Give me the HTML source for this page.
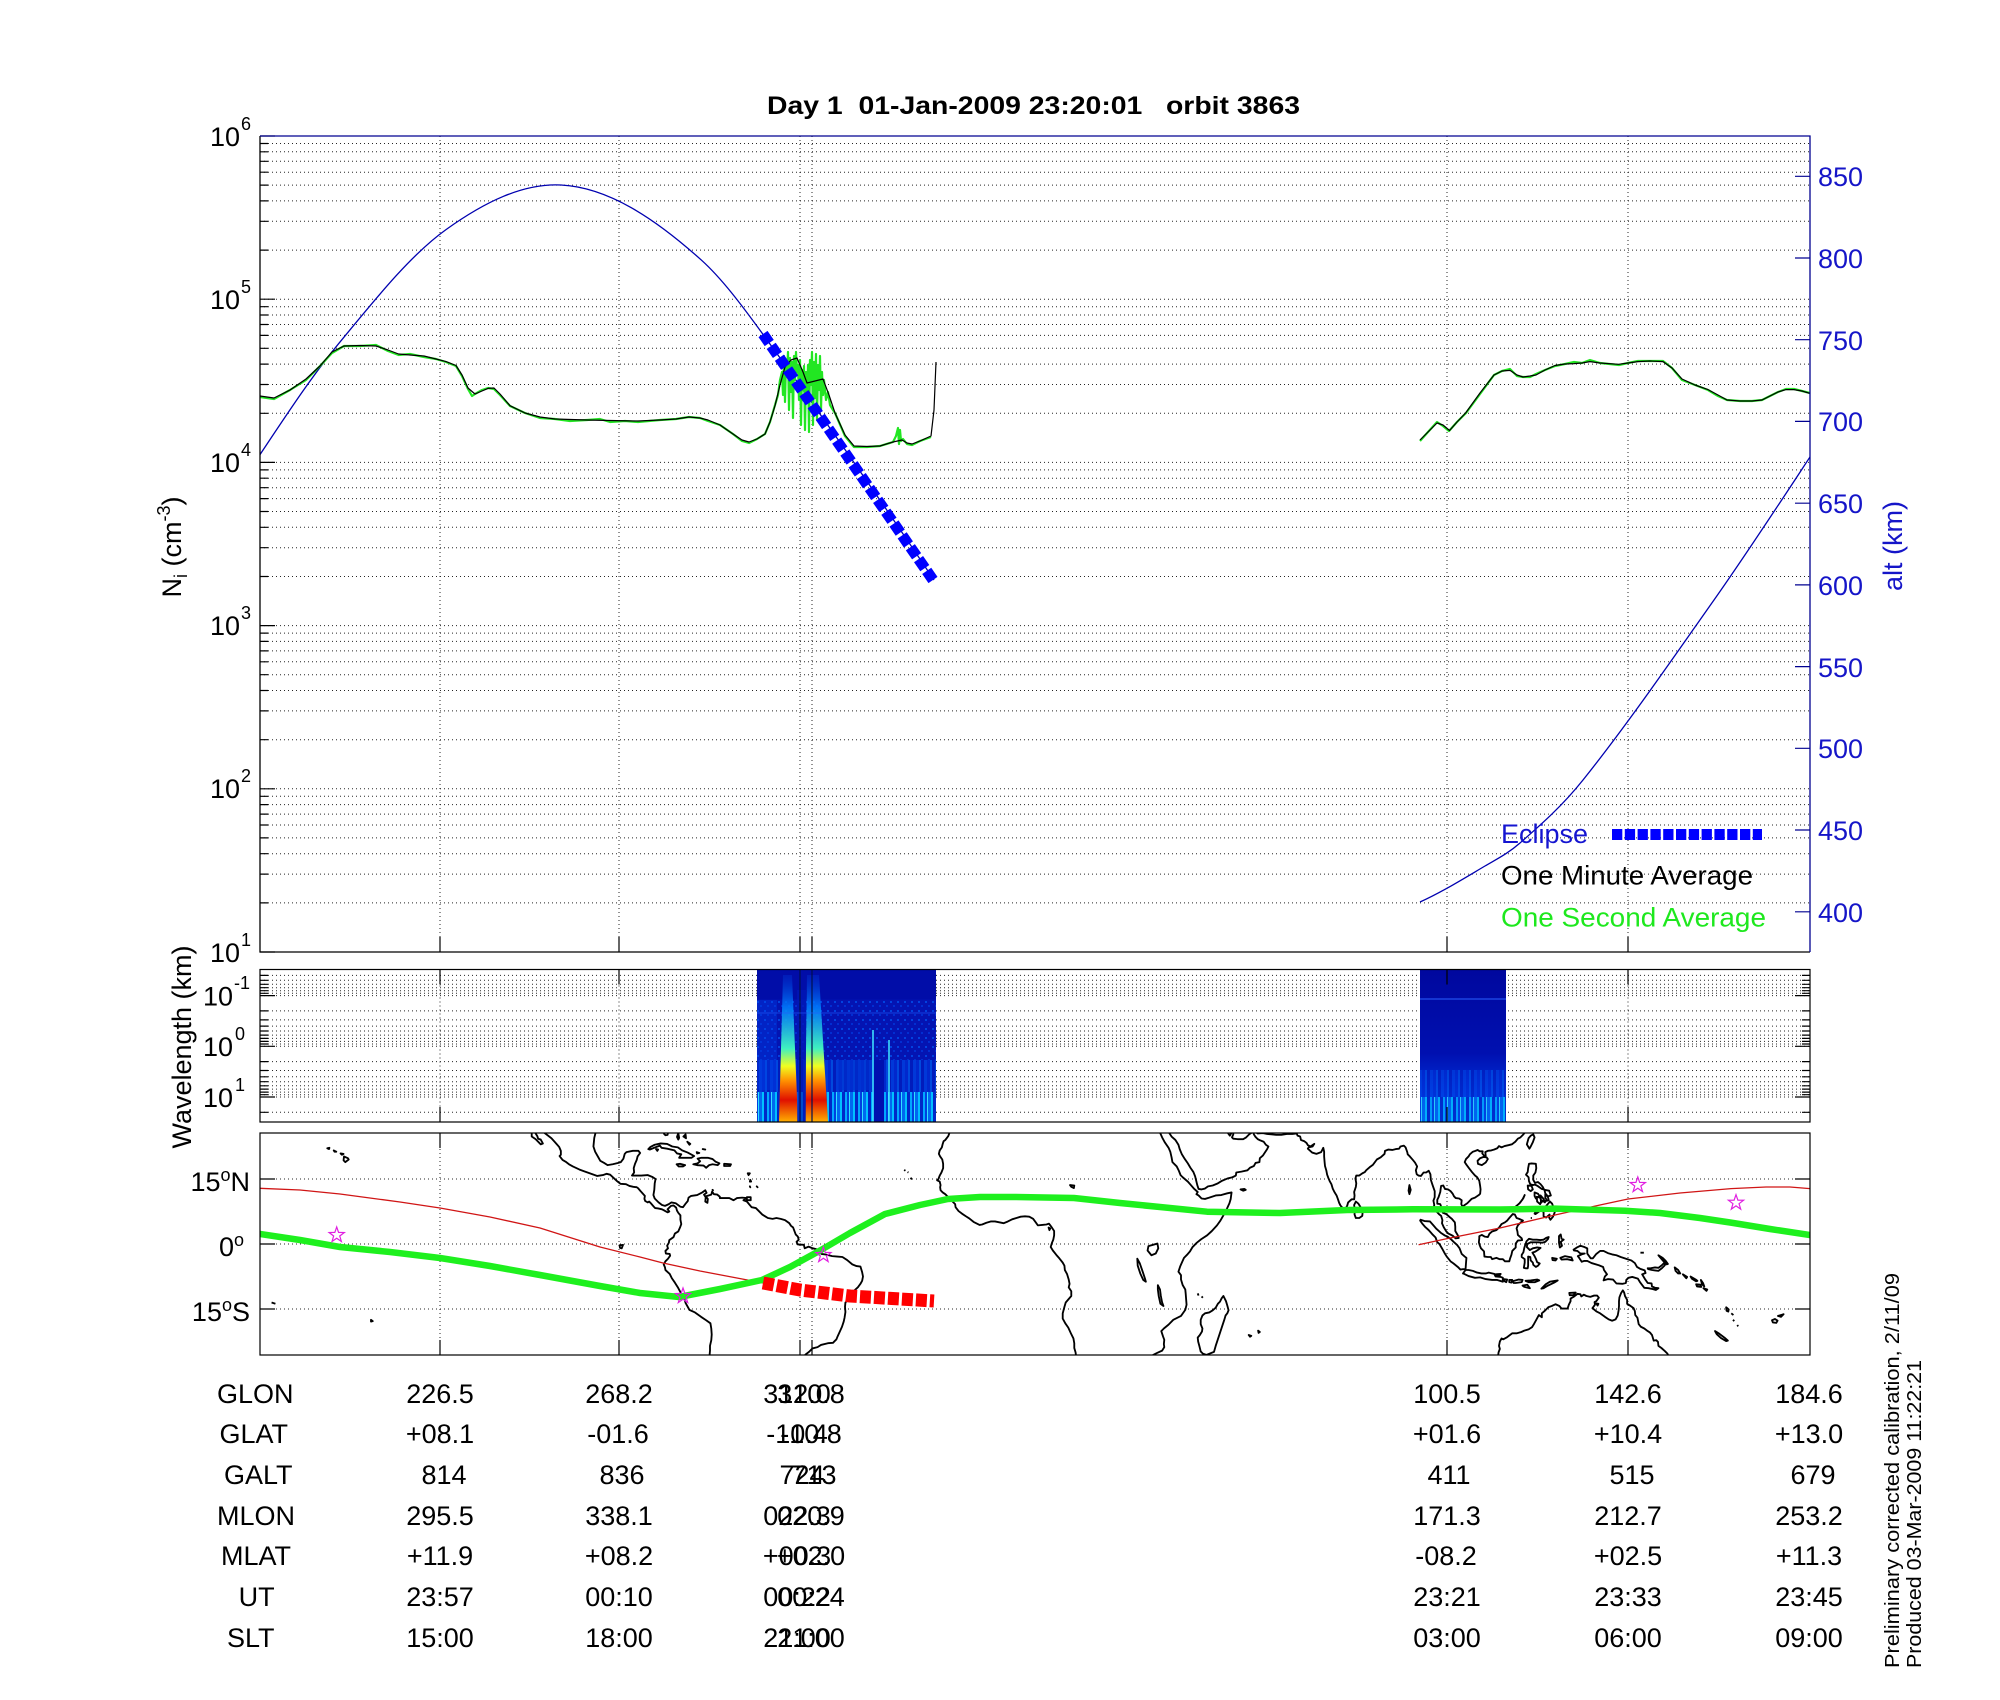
<!DOCTYPE html>
<html><head><meta charset="utf-8"><style>
html,body{margin:0;padding:0;background:#fff;}
svg{display:block;}
text{font-family:"Liberation Sans",Arial,sans-serif;white-space:pre;}
</style></head><body>
<svg width="2000" height="1700" viewBox="0 0 2000 1700" xmlns="http://www.w3.org/2000/svg">
<defs>
<clipPath id="mapclip"><rect x="260" y="1133" width="1550" height="222"/></clipPath>
<clipPath id="topclip"><rect x="260" y="136" width="1550" height="816"/></clipPath>
<linearGradient id="streak" x1="0" y1="975" x2="0" y2="1122" gradientUnits="userSpaceOnUse">
<stop offset="0" stop-color="#0030d0" stop-opacity="0.4"/>
<stop offset="0.22" stop-color="#0080ff" stop-opacity="0.85"/>
<stop offset="0.5" stop-color="#40f0c0"/>
<stop offset="0.62" stop-color="#f0ff20"/>
<stop offset="0.72" stop-color="#ff9000"/>
<stop offset="0.85" stop-color="#e01000"/>
<stop offset="1" stop-color="#ffb000"/>
</linearGradient>
<linearGradient id="b2" x1="0" y1="969" x2="0" y2="1122" gradientUnits="userSpaceOnUse">
<stop offset="0" stop-color="#00089e"/>
<stop offset="0.55" stop-color="#0010b0"/>
<stop offset="0.8" stop-color="#0030d8"/>
<stop offset="1" stop-color="#0050f0"/>
</linearGradient>
<pattern id="stripes" x="0" y="0" width="13" height="40" patternUnits="userSpaceOnUse">
<rect x="0" y="0" width="2" height="40" fill="#00a8ff"/>
<rect x="2" y="0" width="2" height="40" fill="#0040e0"/>
<rect x="4" y="0" width="1" height="40" fill="#30e0ff"/>
<rect x="5" y="0" width="3" height="40" fill="#0068f0"/>
<rect x="8" y="0" width="2" height="40" fill="#00c0ff"/>
<rect x="10" y="0" width="3" height="40" fill="#0028c8"/>
</pattern>
<pattern id="stripes2" x="3" y="0" width="11" height="40" patternUnits="userSpaceOnUse">
<rect x="0" y="0" width="3" height="40" fill="#0030d8"/>
<rect x="3" y="0" width="2" height="40" fill="#0060f0"/>
<rect x="5" y="0" width="3" height="40" fill="#0020c0"/>
<rect x="8" y="0" width="3" height="40" fill="#0048e8"/>
</pattern>
<pattern id="speck" x="0" y="0" width="7" height="9" patternUnits="userSpaceOnUse">
<rect x="1" y="2" width="2" height="2" fill="#0060ff"/>
<rect x="4" y="6" width="2" height="2" fill="#0040e8"/>
</pattern>
</defs>

<!-- Title -->
<text x="767" y="114" font-size="25" font-weight="bold" textLength="533" lengthAdjust="spacingAndGlyphs">Day 1  01-Jan-2009 23:20:01   orbit 3863</text>

<!-- ===== TOP PANEL ===== -->
<g fill="none" stroke="#000" stroke-width="1" stroke-dasharray="1 3" opacity="0.85">
<path d="M260,902.9H1810M260,874.1H1810M260,853.7H1810M260,837.9H1810M260,825H1810M260,814.1H1810M260,804.6H1810M260,796.3H1810M260,788.8H1810
M260,739.7H1810M260,710.9H1810M260,690.5H1810M260,674.7H1810M260,661.8H1810M260,650.9H1810M260,641.4H1810M260,633.1H1810M260,625.6H1810
M260,576.5H1810M260,547.7H1810M260,527.3H1810M260,511.5H1810M260,498.6H1810M260,487.7H1810M260,478.2H1810M260,469.9H1810M260,462.4H1810
M260,413.3H1810M260,384.5H1810M260,364.1H1810M260,348.3H1810M260,335.4H1810M260,324.5H1810M260,315H1810M260,306.7H1810M260,299.2H1810
M260,250.1H1810M260,221.3H1810M260,200.9H1810M260,185.1H1810M260,172.2H1810M260,161.3H1810M260,151.8H1810M260,143.5H1810"/>
<path d="M440,136V952M619,136V952M800,136V952M812,136V952M1447,136V952M1628,136V952"/>
</g>
<!-- left ticks -->
<g stroke="#000" stroke-width="1.2">
<path d="M260,952h15M260,788.8h15M260,625.6h15M260,462.4h15M260,299.2h15M260,136h15"/>
<path d="M260,902.9h8M260,874.1h8M260,853.7h8M260,837.9h8M260,825h8M260,814.1h8M260,804.6h8M260,796.3h8
M260,739.7h8M260,710.9h8M260,690.5h8M260,674.7h8M260,661.8h8M260,650.9h8M260,641.4h8M260,633.1h8
M260,576.5h8M260,547.7h8M260,527.3h8M260,511.5h8M260,498.6h8M260,487.7h8M260,478.2h8M260,469.9h8
M260,413.3h8M260,384.5h8M260,364.1h8M260,348.3h8M260,335.4h8M260,324.5h8M260,315h8M260,306.7h8
M260,250.1h8M260,221.3h8M260,200.9h8M260,185.1h8M260,172.2h8M260,161.3h8M260,151.8h8M260,143.5h8"/>
<path d="M440,952v-15M619,952v-15M800,952v-15M812,952v-15M1447,952v-15M1628,952v-15"/>
</g>

<!-- alt curve -->
<g clip-path="url(#topclip)" fill="none">
<path d="M260,454.6 C286,415.6 312,375.9 338,344.4 C374,300.8 410,255.3 446,229.6 C484.3,202.2 522.7,183.1 561,185 C607.8,187.3 654.7,218.1 701.5,260.2 C721.7,278.4 741.8,305.2 762,333 C819.3,411.8 876.7,494 934,580" stroke="#0000b0" stroke-width="1.3"/>
<path d="M1420,902 C1441.7,892.2 1463.3,878.8 1485,866 C1496.7,859.1 1508.3,853.3 1520,843 C1541,824.6 1562,806.3 1583,780 C1626.7,725.4 1670.3,662 1714,600 C1746,554.6 1778,505.6 1810,457" stroke="#0000b0" stroke-width="1.3"/>

<!-- one second average (green) -->
<g stroke="#22e622" stroke-width="2.2" stroke-linejoin="round">
<path d="M260,397 L274,399 L290,390 L306,380 L320,366 L332,353 L344,346 L360,346 L376,345 L388,351 L398.6,355 L410,354 L424,357 L436,359 L446,362 L456,366 L462,376 L468,389 L472,396 L475,394 L482,390 L488,388 L494,389 L500,395 L510,406 L525,413 L540,418 L555,419 L570,421 L587,420 L600,419 L610,422 L625,421 L638,422 L660,420 L676,419 L689,417 L700,418 L708,421 L720,425 L733,434 L742,441 L749,443 L757,439 L765,434 L770,422 L775,405"/>
<path d="M775,405 L778,395 L780,380 L782,372 L783,395 L784,356 L785,402 L786,362 L787,375 L788,352 L789,410 L790,358 L791,392 L792,362 L793,418 L794,356 L795,380 L796,352 L797,372 L798,365 L799,400 L800,360 L801,425 L802,370 L803,390 L804,366 L805,430 L806,372 L807,400 L808,365 L809,432 L810,360 L811,385 L812,352 L813,425 L814,362 L815,398 L816,354 L817,420 L818,365 L819,390 L820,356 L821,410 L822,372 L823,395 L824,380 L826,400 L828,392 L830,405 L833,410 L835,413 L845,436 L854,447 L867,447 L880,446 L893,442 L896,436 L898,428 L899,444 L900,430 L901,441 L903,439 L907,444 L912,445 L920,441 L931,437"/>
<path d="M1420,441 L1428,432 L1437,422 L1443,426 L1449,431 L1457,422 L1466,413 L1480,394 L1494,375 L1502,371 L1510,369 L1517,376 L1523,377 L1530,377 L1536,374 L1545,370 L1555,366 L1565,364 L1574,362 L1582,363 L1590,360 L1600,363 L1619,365 L1628,363 L1638,361 L1650,361 L1663,361 L1672,368 L1682,380 L1695,385 L1708,390 L1718,396 L1727,400 L1740,401 L1752,401 L1762,400 L1770,396 L1778,392 L1786,389 L1794,389 L1802,391 L1810,393"/>
</g>
<!-- one minute average (black) -->
<g stroke="#000" stroke-width="1.2" stroke-linejoin="round">
<path d="M260,396 L274,398 L290,390 L306,379 L320,366 L332,352 L344,346 L360,345.5 L376,346 L388,350 L398.6,354 L410,355 L424,356 L436,359 L446,361.6 L456,365.5 L462,375 L468,388 L475,394 L482,391 L488,388.4 L494,388 L500,394 L510,405.7 L525,413 L540,417 L555,419 L587,420 L610,420.5 L638,421 L660,420 L676,419 L689,417 L700,418 L708,420 L720,425 L733,434 L742,440 L749,442 L757,439 L765,434 L770,422 L775,405.7 L780,385 L785,367 L791,360 L797,358 L803,372 L807,383 L815,381 L823,379 L829,395 L835,413 L845,435 L854,446 L867,446.5 L880,446 L893,442 L902,440 L907,443 L912,444 L920,441 L931,436 L934,410 L936,362"/>
<path d="M1420,440 L1428,432 L1437,423 L1443,425 L1449.6,430.5 L1457,422 L1465.6,413 L1480,393 L1494,375 L1502,371 L1510,370.4 L1517,375 L1523,377 L1530,376 L1536,375 L1545,370 L1555,365.5 L1565,364 L1574,363.6 L1582,363 L1590,361.6 L1600,363 L1618.6,364.3 L1628,363 L1637.8,361.6 L1650,361 L1663,361.6 L1672,368 L1682,379 L1695,385 L1708,389.6 L1718,395 L1727,400 L1740,401 L1752,401 L1762,400 L1770,396 L1778,392 L1786,389.6 L1794,389.6 L1802,391 L1810,393.4"/>
</g>
<!-- eclipse -->
<path d="M763,334 L933,580" stroke="#0000ff" stroke-width="11" stroke-dasharray="11 3.4" fill="none"/>
</g>

<!-- top panel frame -->
<path d="M260,136V952H1810" stroke="#000" stroke-width="1.3" fill="none"/>
<path d="M260,136H1810V952" stroke="#000090" stroke-width="1.3" fill="none"/>
<!-- alt ticks -->
<path d="M1795,911.8h15M1795,830h15M1795,748.3h15M1795,666.6h15M1795,584.9h15M1795,503.2h15M1795,421.4h15M1795,339.7h15M1795,258h15M1795,176.3h15" stroke="#000090" stroke-width="1.2"/>

<!-- left y labels (top) -->
<g font-size="27" fill="#000">
<text x="240" y="146" text-anchor="end">10</text><text x="241" y="130" font-size="18">6</text>
<text x="240" y="309" text-anchor="end">10</text><text x="241" y="293" font-size="18">5</text>
<text x="240" y="472" text-anchor="end">10</text><text x="241" y="456" font-size="18">4</text>
<text x="240" y="635" text-anchor="end">10</text><text x="241" y="619" font-size="18">3</text>
<text x="240" y="798" text-anchor="end">10</text><text x="241" y="782" font-size="18">2</text>
<text x="240" y="962" text-anchor="end">10</text><text x="241" y="946" font-size="18">1</text>
</g>
<text transform="translate(181,547) rotate(-90)" text-anchor="middle" font-size="27">N<tspan font-size="18" dy="6">i</tspan><tspan dy="-6"> (cm</tspan><tspan font-size="18" dy="-11">-3</tspan><tspan dy="11">)</tspan></text>

<!-- right alt labels -->
<g font-size="27" fill="#1515c8">
<text x="1818" y="186">850</text>
<text x="1818" y="268">800</text>
<text x="1818" y="350">750</text>
<text x="1818" y="431">700</text>
<text x="1818" y="513">650</text>
<text x="1818" y="595">600</text>
<text x="1818" y="677">550</text>
<text x="1818" y="758">500</text>
<text x="1818" y="840">450</text>
<text x="1818" y="922">400</text>
<text transform="translate(1902,546) rotate(-90)" text-anchor="middle">alt (km)</text>
</g>

<!-- legend -->
<text x="1501" y="843" font-size="27" fill="#1515d0">Eclipse</text>
<path d="M1612,834.5 L1762,834.5" stroke="#0000ff" stroke-width="11" stroke-dasharray="10.3 2.5" fill="none"/>
<text x="1501" y="884.5" font-size="27" fill="#000" textLength="252" lengthAdjust="spacingAndGlyphs">One Minute Average</text>
<text x="1501" y="926.5" font-size="27" fill="#1ee81e" textLength="265" lengthAdjust="spacingAndGlyphs">One Second Average</text>

<!-- ===== SPECTROGRAM PANEL ===== -->
<g fill="none" stroke="#000" stroke-width="1" stroke-dasharray="1 3" opacity="0.85">
<path d="M260,975.4H1810M260,980.3H1810M260,984.3H1810M260,987.7H1810M260,990.7H1810M260,993.3H1810M260,995.6H1810
M260,1010.9H1810M260,1019.9H1810M260,1026.1H1810M260,1031H1810M260,1035.1H1810M260,1038.4H1810M260,1041.4H1810M260,1044H1810M260,1046.3H1810
M260,1061.6H1810M260,1070.5H1810M260,1076.8H1810M260,1081.7H1810M260,1085.8H1810M260,1089.1H1810M260,1092.1H1810M260,1094.7H1810M260,1097H1810
M260,1112.3H1810"/>
<path d="M440,969.5V1122M619,969.5V1122M1447,969.5V1122M1628,969.5V1122"/>
</g>
<!-- spectrogram block 1 -->
<rect x="757" y="969.5" width="179" height="152.5" fill="#0414b2"/>
<rect x="757" y="969.5" width="179" height="30" fill="#000aa4" opacity="0.7"/>
<rect x="757" y="1000" width="179" height="60" fill="url(#speck)" opacity="0.6"/>
<rect x="757" y="1060" width="179" height="35" fill="url(#stripes2)" opacity="0.7"/>
<rect x="757" y="1092" width="179" height="30" fill="url(#stripes)"/>
<rect x="757" y="1000" width="20" height="90" fill="#0040e8" opacity="0.35"/>
<rect x="838" y="1060" width="35" height="30" fill="#0030d0" opacity="0.6"/>
<rect x="874" y="1060" width="10" height="62" fill="#0010b0"/>
<path d="M783,975 L792,975 L798,1122 L779,1122 Z" fill="url(#streak)"/>
<path d="M807,975 L819,975 L828,1122 L805,1122 Z" fill="url(#streak)"/>
<path d="M797,990 L806,990 L806,1122 L797,1122 Z" fill="#0018b8" opacity="0.7"/>
<path d="M873,1030V1122M889,1040V1122" stroke="#40e8ff" stroke-width="1.5"/>
<path d="M800,969.5V1122M812,969.5V1122" stroke="#001050" stroke-width="1.2"/>
<path d="M757,1013H936" stroke="#2060ff" stroke-width="1" opacity="0.6"/>
<!-- spectrogram block 2 -->
<rect x="1420" y="969.5" width="86" height="152.5" fill="url(#b2)"/>
<rect x="1420" y="1070" width="86" height="28" fill="url(#stripes2)" opacity="0.55"/>
<rect x="1420" y="1097" width="86" height="25" fill="url(#stripes)" opacity="0.85"/>
<path d="M1420,999H1506" stroke="#2a60ff" stroke-width="1"/>
<!-- spectrogram ticks -->
<g stroke="#000" stroke-width="1.2" fill="none">
<path d="M260,995.6h15M260,1046.3h15M260,1097h15M1810,995.6h-15M1810,1046.3h-15M1810,1097h-15"/>
<path d="M260,975.4h8M260,980.3h8M260,984.3h8M260,987.7h8M260,990.7h8M260,993.3h8M260,1010.9h8M260,1019.9h8M260,1026.1h8M260,1031h8M260,1035.1h8M260,1038.4h8M260,1041.4h8M260,1044h8M260,1061.6h8M260,1070.5h8M260,1076.8h8M260,1081.7h8M260,1085.8h8M260,1089.1h8M260,1092.1h8M260,1094.7h8M260,1112.3h8"/>
<path d="M1810,975.4h-8M1810,980.3h-8M1810,984.3h-8M1810,987.7h-8M1810,990.7h-8M1810,993.3h-8M1810,1010.9h-8M1810,1019.9h-8M1810,1026.1h-8M1810,1031h-8M1810,1035.1h-8M1810,1038.4h-8M1810,1041.4h-8M1810,1044h-8M1810,1061.6h-8M1810,1070.5h-8M1810,1076.8h-8M1810,1081.7h-8M1810,1085.8h-8M1810,1089.1h-8M1810,1092.1h-8M1810,1094.7h-8M1810,1112.3h-8"/>
<path d="M440,969.5v15M619,969.5v15M1447,969.5v15M1628,969.5v15M440,1122v-15M619,1122v-15M1447,1122v-15M1628,1122v-15"/>
<rect x="260" y="969.5" width="1550" height="152.5"/>
</g>
<g font-size="27" fill="#000">
<text x="233" y="1005.5" text-anchor="end">10</text><text x="234" y="989" font-size="18">-1</text>
<text x="233" y="1056" text-anchor="end">10</text><text x="235" y="1040" font-size="18">0</text>
<text x="233" y="1107" text-anchor="end">10</text><text x="235" y="1091" font-size="18">1</text>
</g>
<text transform="translate(191,1047) rotate(-90)" text-anchor="middle" font-size="27">Wavelength (km)</text>

<!-- ===== MAP PANEL ===== -->
<g fill="none" stroke="#000" stroke-width="1" stroke-dasharray="1 3" opacity="0.85">
<path d="M260,1179H1810M260,1244H1810M260,1309H1810"/>
<path d="M440,1133V1355M619,1133V1355M800,1133V1355M812,1133V1355M1447,1133V1355M1628,1133V1355"/>
</g>
<g clip-path="url(#mapclip)">
<g transform="translate(1012.14,1244) scale(4.2857,-4.3333)" fill="none" stroke="#000" stroke-width="0.43" stroke-linejoin="round">
<path d="M-155.9,20.2 L-155,19.8 L-154.8,19.5 L-155.6,18.9 L-156,19.3 Z M-156.7,20.9 L-156,20.8 L-156.4,20.6 Z M-158.3,21.6 L-157.7,21.3 L-158.1,21.3 Z M-159.8,22.1 L-159.3,22.2 L-159.4,21.9 Z"/>
<path d="M-172.8,-13.5 L-171.9,-13.8 M-149.6,-17.5 L-149.2,-17.8 L-149.6,-17.9 Z M-91.6,-0.3 L-90.8,-0.2 L-91.1,-1 L-91.5,-0.9 Z"/>
<path d="M-112.1,25.7 L-112.1,24.8 L-111.2,24.2 L-110,23 L-109.5,23.2 L-110,24.1 L-110.6,24.3 L-110.8,24.9 L-111.3,25.7"/>
<path d="M-109.2,25.7 L-108.4,25.1 L-107.5,24.4 L-106.4,23.2 L-105.7,22.4 L-105.3,21.5 L-105.3,20.6 L-105.6,20.3 L-104.9,19.4 L-104.2,19 L-103.4,18.4 L-102.5,17.9 L-101,17.2 L-99.9,16.8 L-98.5,16.3 L-96.8,15.7 L-95.5,15.9 L-94.6,16.2 L-93.8,16 L-92.3,14.6 L-91.4,13.9 L-90.1,13.8 L-89.3,13.4 L-88.4,13.2 L-87.6,13.1 L-87.3,12.9 L-86.7,12.2 L-85.7,11.1 L-85.8,10.4 L-85.6,9.9 L-85,9.6 L-84.7,9.8 L-84.3,9.4 L-83.6,8.6 L-83.3,8.3 L-82.6,8.2 L-81.7,8 L-81.1,7.7 L-80.4,7.3 L-80,7.5 L-80.4,8 L-79.6,8.8 L-79,8.9 L-78.4,8.4 L-78.2,7.7 L-77.9,7.2 L-77.4,6.6 L-77.4,5.6 L-77.2,4.6 L-77.5,3.8 L-77.9,2.9 L-78.7,2.4 L-79,1.6 L-80,0.9 L-80.1,0.3 L-80.5,-0.4 L-80.3,-1 L-80.9,-1.6 L-80.8,-2.2 L-79.9,-2.3 L-79.8,-2.7 L-80.3,-3.4 L-80.9,-4 L-81.3,-4.7 L-81,-5.4 L-80.9,-6 L-79.9,-6.9 L-79.4,-7.9 L-78.7,-8.9 L-78,-10 L-77.2,-11.5 L-76.4,-12.9 L-76.2,-13.6 L-75.3,-15.2 L-74,-15.8 L-72.6,-16.8 L-71.4,-17.6 L-70.4,-18.3 L-70.2,-19.5 L-70.1,-20.9 L-70.2,-22.2 L-70.5,-23.5 L-70.5,-24.6 L-70.6,-25.7"/>
<path d="M-97.2,25.7 L-97.5,24.5 L-97.7,22.5 L-97.3,21.3 L-96.5,19.9 L-96.1,19.2 L-95.2,18.7 L-94.4,18.2 L-93.2,18.4 L-92,18.7 L-91.3,18.9 L-90.7,19.7 L-90.4,20.8 L-90,21.2 L-88.5,21.5 L-87.2,21.5 L-86.8,21 L-87.4,20.2 L-87.6,19.4 L-88,18.5 L-88.3,17.5 L-88.2,16.5 L-88.7,15.8 L-87.8,15.8 L-86.5,15.8 L-85,15.9 L-84,15.5 L-83.2,15 L-83.4,14 L-83.5,12.5 L-83.7,11.3 L-83.4,10.5 L-82.5,9.6 L-81.7,9 L-81,8.8 L-80.1,9.2 L-79.5,9.6 L-78.5,9.4 L-77.4,8.6 L-76.8,8.5 L-76.2,9.3 L-75.7,9.9 L-75.5,10.7 L-74.9,11.1 L-73.5,11.3 L-72.3,11.9 L-71.6,12.4 L-71.3,11.8 L-71.9,11.4 L-71.5,10.8 L-71.6,9.8 L-71.1,9.5 L-71,10.4 L-71.5,11 L-70.2,11.4 L-70,12.1 L-69.6,11.5 L-68.8,11.4 L-68.2,10.9 L-68.2,10.6 L-66.9,10.6 L-66,10.6 L-65,10.1 L-64.2,10.6 L-63,10.7 L-62,10.6 L-62.7,10.1 L-61.9,9.8 L-60.8,8.5 L-59.8,8.3 L-58.9,7.4 L-58.3,6.8 L-57.5,6.3 L-57,6 L-55.9,5.8 L-55,6 L-54,5.8 L-53,5.5 L-52,4.8 L-51.6,4.2 L-51.1,3.8 L-50.5,2.2 L-50,1.7 L-49.8,1 L-50.3,0.5 L-50,-0.1 L-48.6,-0.2 L-48.4,-1 L-47.5,-0.6 L-46.5,-1 L-45.3,-1.3 L-44.5,-2.3 L-43.6,-2.4 L-42,-2.8 L-40.8,-2.9 L-39.6,-3 L-38.5,-3.7 L-37.3,-4.7 L-36.3,-5.1 L-35.4,-5.2 L-35,-6.5 L-34.8,-7.5 L-35,-8.5 L-35.4,-9.2 L-36,-10 L-36.9,-10.8 L-37.5,-11.8 L-38.3,-12.9 L-38.9,-13.5 L-39,-14.5 L-38.9,-15.7 L-39.1,-17 L-39.3,-17.9 L-39.7,-19.1 L-40.2,-20.2 L-40.8,-21.5 L-41,-22 L-41.8,-22.8 L-43,-22.9 L-44.6,-23.3 L-45.4,-23.8 L-46.6,-24.1 L-47.4,-24.9 L-48.2,-25.5 L-48.4,-25.7"/>
<path d="M-80.3,25.7 L-80.4,25.2 L-80.9,25.1 L-81.2,25.4 L-81.3,25.7"/>
<path d="M-84.9,21.9 L-84.4,22.4 L-83.4,22.9 L-82,23.2 L-80.5,23.1 L-79.3,22.5 L-78,22.3 L-77,21.6 L-75.7,21.1 L-74.2,20.3 L-74.8,19.9 L-77,19.9 L-77.7,19.9 L-77.2,20.7 L-78.2,20.9 L-78.8,21.6 L-80.5,22 L-81.8,22.2 L-82.2,22.7 L-83.5,22.2 L-84.5,21.8 Z"/>
<path d="M-83.1,21.9 L-82.6,21.8 L-82.8,21.5 Z"/>
<path d="M-74.4,18.4 L-73.4,18.6 L-72.8,19.1 L-73.4,19.7 L-72.5,19.9 L-71,19.9 L-69.9,19.6 L-69.2,19 L-68.3,18.6 L-68.7,18.2 L-69.9,18.4 L-70.7,18.2 L-71.4,17.6 L-72,18.1 L-73.5,18.2 Z"/>
<path d="M-78.3,18.4 L-77.5,18.5 L-76.3,18.2 L-76.8,17.9 L-77.8,17.9 Z"/>
<path d="M-67.2,18.5 L-65.6,18.4 L-65.8,18 L-67.2,18 Z"/>
<path d="M-61.9,10.8 L-61,10.8 L-61,10.1 L-61.9,10.1 Z"/>
<path d="M-61.7,16.3 L-61.2,16.3 L-61.5,15.9 Z M-61.1,14.8 L-60.9,14.4 L-61.2,14.4 Z M-59.6,13.3 L-59.4,13.1 Z M-61.2,13.3 L-61.1,13.1 Z"/>
<path d="M-77.9,25.6 L-77.7,24.5 L-77.9,24.1 L-78.2,24.7 Z M-76.2,25.3 L-76.7,24.8 L-76.1,24.4 Z M-75.8,23.6 L-75.1,23.1 L-75.3,22.9 Z M-73.6,21.2 L-73,21 L-73.5,20.9 Z M-72.2,21.9 L-71.6,21.8 Z M-69.9,12.5 L-69.8,12.4 Z"/>
<path d="M-25.2,17.1 L-24.9,16.9 M-23.7,15.3 L-23.4,14.9 M-24.4,16.6 L-24.2,16.5"/>
<path d="M-14.6,25.7 L-14.9,24.9 L-15.6,24 L-16,23.7 L-16.2,23.1 L-16.4,22.3 L-16.9,21.6 L-17.1,20.8 L-16.8,20.2 L-16.3,19.5 L-16.1,18.5 L-16.1,17.5 L-16.5,16.5 L-16.9,15.8 L-17.2,15 L-17.5,14.7 L-16.9,14.4 L-16.7,13.6 L-16.8,13.1 L-16.7,12.4 L-16.2,11.9 L-15.6,11.5 L-15,10.9 L-14.6,10.4 L-14,9.9 L-13.3,9.2 L-13.2,8.5 L-12.5,7.6 L-11.7,7 L-10.8,6.4 L-10,5.9 L-9,5.1 L-7.6,4.4 L-7,4.5 L-6,4.9 L-5,5.2 L-4,5.2 L-3,5 L-2,4.8 L-1,5.2 L0,5.7 L1,6 L2,6.3 L3,6.4 L4,6.3 L4.9,5.8 L5.5,5 L6,4.3 L7,4.4 L8,4.5 L8.6,4.7 L9.2,3.9 L9.8,3 L9.8,2 L9.6,1 L9.3,0.3 L9,-0.7 L9.5,-1.5 L10.3,-2.5 L11,-3.3 L11.8,-4.3 L12.2,-5 L12.3,-6 L12.8,-6.9 L13.2,-8.2 L13.4,-9.2 L13.2,-10 L13.8,-10.9 L13.8,-12 L12.5,-13.5 L12.2,-14.5 L11.8,-16 L11.8,-17.2 L12.4,-18.3 L13.1,-19.3 L13.7,-20.6 L14.3,-21.8 L14.5,-22.9 L14.5,-24 L14.8,-25 L14.9,-25.7"/>
<path d="M8.5,3.8 L8.9,3.6 L8.7,3.2 Z"/>
<path d="M34.5,25.7 L35,24.6 L35.6,23.5 L36.5,22.2 L36.9,21.3 L37.2,20 L37.4,18.9 L38.4,17.9 L38.9,16.9 L39.3,15.9 L39.8,15.4 L41,14.4 L41.7,13.6 L42.4,12.8 L43.3,12 L43,11.5 L43.5,11.2 L44.2,10.5 L45,10.4 L46,10.7 L47.5,11.2 L48.8,11.3 L50.2,11.7 L51.2,11.9 L51.1,11.2 L51,10.4 L50.7,9.4 L50.1,8.1 L49.4,6.8 L48.6,5.4 L47.8,4.3 L46.6,3 L45.5,2 L44.1,1.1 L43.1,0.3 L42.1,-0.7 L41.5,-1.7 L40.8,-2.5 L40.1,-3.2 L39.6,-4.3 L39.2,-5.2 L38.8,-6.4 L39.4,-7.2 L39.4,-8.2 L39.8,-9.5 L40.4,-10.5 L40.5,-11.5 L40.6,-12.8 L40.7,-14 L40.4,-15.2 L39.4,-16.6 L37.6,-17.5 L36.5,-18.6 L35.4,-19.5 L34.8,-20.1 L35.2,-21.3 L35.5,-22.1 L35.4,-23.1 L35.5,-23.8 L35,-24.6 L33.7,-25.2 L32.9,-25.6 L32.6,-25.9"/>
<path d="M31.8,-0.5 L33.9,0.1 L34.1,-1 L33.5,-2.2 L32.5,-2.6 L31.6,-1.5 Z M29.2,-3.4 L29.8,-4.5 L30.5,-6.5 L31,-8 L31.2,-8.7 L30.6,-8.3 L29.9,-6.8 L29.3,-5 Z M34,-9.5 L34.5,-10.5 L34.7,-12 L35,-13.5 L35.3,-14.3 L34.6,-13.8 L34.2,-12 L34,-10.5 Z M13.5,13.6 L14.5,13.5 L14.4,12.9 L13.8,13.2 Z"/>
<path d="M49.3,-12 L49.9,-13.2 L50.2,-14.2 L50.5,-15.3 L50.2,-16 L49.8,-16.5 L49.5,-17.5 L49,-19 L48.5,-20.5 L48,-22 L47.5,-23.5 L47.1,-24.9 L46.3,-25.2 L45.3,-25.6 L44.5,-25.3 L44,-24.8 L43.7,-23.6 L43.4,-22.5 L43.3,-21.6 L43.8,-21 L44.3,-20.2 L44.4,-19.5 L44,-18.5 L44,-17.5 L44.4,-16.5 L45,-16 L46,-15.8 L46.8,-15.3 L47.5,-14.7 L48,-13.8 L48.5,-13.3 L48.9,-12.5 Z"/>
<path d="M43.3,-11.4 L43.5,-11.9 M44.2,-12.1 L44.5,-12.4 M57.4,-20 L57.8,-20.3 L57.5,-20.5 Z M55.2,-21 L55.8,-21.2 L55.5,-21.4 Z M53.3,12.6 L54.2,12.7 L54.5,12.5 L53.9,12.3 Z"/>
<path d="M36.6,25.7 L37.2,24.8 L38.1,24 L38.8,22.9 L39.1,21.9 L39.6,20.7 L40.3,19.6 L41,18.6 L41.6,17.6 L42.3,16.6 L42.7,15.6 L42.9,14.8 L43.2,13.6 L43.5,12.7 L44.2,12.6 L45,12.8 L45.7,13.3 L46.8,13.5 L48,14 L49,14.6 L50.2,15.1 L51.4,15.4 L52.2,15.8 L52.3,16.5 L53.5,16.7 L54.9,17 L55.5,17.6 L56.4,18 L56.8,18.7 L57.7,18.9 L57.8,19.8 L58.5,20.4 L58.9,21 L59.5,21.9 L59.8,22.5 L59.2,22.9 L58.7,23.6 L57.9,23.9 L57.3,24.2 L56.8,24.7 L56.4,25.3 L56.3,25.7"/>
<path d="M55.9,25.7 L55.3,25.3 L54.6,24.6 L53.9,24.2 L52.6,24.2 L51.6,24.3 L51.3,24.6 L51.6,25.3 L51.6,25.7 M51.2,25.7 L50.8,25 L50.5,25.4 L50.3,25.7"/>
<path d="M57,25.7 L57.3,25.5 L58.5,25.6 L59.5,25.4 L61.6,25.2 L62.8,25.2 L64.1,25.4 L65.4,25.4 L66.4,25.5 L66.6,25 L67.2,24.8 L67.4,24 L68.2,23.7 L68.7,23.3 L69,22.8 L69.6,22.5 L70.5,23.1 L70.1,22.5 L69.2,22.3 L69,22 L70,21.1 L71,20.8 L72.1,21.2 L72.6,22.2 L72.8,21.3 L72.8,20.2 L72.9,19 L73,18 L73.3,17 L73.5,16 L73.8,15.2 L74.1,14.5 L74.5,13.8 L74.8,12.8 L75.2,12 L75.7,11.2 L76,10.4 L76.3,9.5 L76.6,8.9 L77.1,8.3 L77.5,8.1 L77.9,8.3 L78.2,8.9 L78.4,9.6 L79.2,10.3 L79.8,10.3 L79.9,11.2 L79.8,12 L80.2,13.2 L80.3,14 L80.1,15.1 L80.3,15.8 L81,15.8 L81.7,16.3 L82.3,16.6 L82.6,17 L83.4,17.7 L84.2,18.3 L85.1,19.5 L86,20 L86.9,20.8 L87,21.5 L87.8,21.8 L88.7,21.7 L89.5,21.9 L90.3,22 L90.6,22.5 L91.4,22.7 L91.8,22.3 L92.2,21.2 L92.3,20.7 L92.8,20.2 L93.5,19.4 L94,18.8 L94.5,17.9 L94.2,17 L94.4,16.1 L94.8,15.8 L95.4,15.7 L96,16.5 L96.6,16.5 L97.2,16.9 L97.6,16.1 L97.7,14.8 L98.1,13.6 L98.6,12.2 L98.6,10.8 L98.3,10 L98.5,9 L98.3,8.2 L98.7,7.9 L99.2,7.3 L99.7,6.8 L100.1,6.5 L100.4,5.5 L100.3,4.8 L100.7,3.9 L101.3,2.9 L101.8,2.4 L102.8,1.9 L103.5,1.3 L104.2,1.4 L104,2 L103.4,3 L103.4,4 L103.3,5 L102.6,5.8 L102.1,6.2 L101.3,6.9 L100.5,7.2 L100.3,8 L99.9,9.2 L99.2,9.3 L99.2,10.2 L99.5,10.8 L99.9,12 L100,12.8 L100.1,13.4 L100.6,13.5 L101,12.7 L101.7,12.6 L102.3,12.2 L102.8,11.6 L103.1,11 L103.5,10.6 L104.3,10.5 L104.9,10.1 L104.8,9.2 L105.1,8.6 L105.6,9 L106.2,9.4 L106.7,9.9 L107.2,10.4 L108,10.7 L108.9,11.3 L109.2,11.6 L109.3,12.6 L109.2,13.4 L109,14.6 L108.5,15.4 L108,15.8 L107.3,16.6 L106.6,17.5 L106,18.3 L105.6,18.9 L105.9,19.6 L106.5,20.2 L106.8,20.7 L107.5,21.3 L108.1,21.5 L108.6,21.7 L109.1,21.4 L109.8,21.4 L109.7,20.9 L110.2,20.3 L110.5,20.4 L110.4,21.2 L111,21.5 L111.8,21.6 L112.5,21.8 L113.2,22.1 L113.6,22.6 L114.2,22.3 L114.9,22.6 L115.8,22.8 L116.6,23 L117.4,23.6 L118,24.3 L118.6,24.6 L119.3,25.3 L119.6,25.7"/>
<path d="M108.6,19.2 L109.2,19.8 L110,20.1 L110.7,20 L111,19.6 L110.5,18.8 L109.6,18.2 L108.7,18.5 Z"/>
<path d="M120.1,23 L120.7,22 L121,22.5 L121.5,23.5 L121.9,24.6 L121.6,25.3 L121,25 L120.5,24.4 Z"/>
<path d="M79.9,6.8 L79.9,8.2 L79.8,9 L80.2,9.8 L80.8,9.3 L81.3,8.5 L81.8,7.5 L81.7,6.5 L81,6 L80.2,6 Z"/>
<path d="M92.7,13.6 L93,12.5 L92.7,11.5 L92.5,12.3 Z"/>
<path d="M95.3,5.6 L96.2,5.3 L97.5,5.2 L98.3,4.3 L99,3.5 L100,2.6 L100.9,2 L101.6,1.7 L102.5,1 L103,0.5 L103.8,-0.2 L104.4,-1 L104.9,-2.3 L105.6,-2.9 L106,-3.2 L105.9,-4.4 L105.8,-5.8 L105.2,-5.8 L104.6,-5.9 L104,-5.3 L103,-4.5 L102.3,-4 L101.4,-2.9 L100.9,-2.1 L100.3,-1 L99.7,0 L99.2,0.4 L98.8,1.5 L98,2.3 L97.2,3.2 L96.4,3.9 L95.7,4.7 L95.2,5.4 Z"/>
<path d="M105.2,-6.8 L105.8,-6 L106.5,-6 L107.5,-6.2 L108.5,-6.6 L109.5,-6.8 L110.5,-6.8 L111.2,-6.6 L112.5,-6.9 L112.8,-7.5 L114,-7.6 L114.5,-7.8 L114.5,-8.7 L113.2,-8.3 L112,-8.3 L110.5,-8.1 L109.2,-7.7 L108,-7.8 L106.5,-7.4 L105.5,-6.9 Z"/>
<path d="M112.7,-7 L114,-6.9 L113.8,-7.2 L112.8,-7.2 Z M114.5,-8.1 L115.5,-8.2 L115.3,-8.8 L114.6,-8.4 Z M116,-8.3 L116.7,-8.3 L116.5,-8.9 L116,-8.8 Z M116.8,-8.6 L118.2,-8.2 L119.1,-8.3 L118.9,-8.8 L117.5,-9 L117,-9 Z M119.8,-8.5 L121,-8.4 L122.5,-8.2 L123,-8.4 L122,-8.8 L120.5,-8.8 Z M119.1,-9.6 L120.2,-9.4 L120.8,-10.2 L119.5,-9.9 Z M123.5,-10.3 L124.5,-9.3 L125.5,-8.7 L127.3,-8.4 L126.5,-8.9 L125,-9.6 L124,-10.2 Z"/>
<path d="M109,1.8 L109.6,2.1 L110.3,1.7 L111,1.6 L111.4,2.4 L112,2.9 L113,3.2 L113.7,3.9 L114.2,4.6 L115,5 L115.5,5.4 L116,6 L116.8,6.9 L117.3,6.8 L117.7,6 L118.3,5.8 L119.2,5.4 L118.6,4.9 L118,4.3 L117.7,3.6 L117.9,2.9 L118,2.1 L118.9,1.3 L119,0.9 L118,0.8 L117.5,0.1 L117.5,-0.8 L116.7,-1.6 L116.5,-2.5 L116.2,-3.3 L116,-4 L115,-4 L114.5,-3.5 L113.7,-3.5 L113,-3.2 L112,-3.5 L111.7,-3 L111,-3 L110.2,-2.9 L110.1,-1.7 L109.4,-1 L109.1,-0.3 L108.9,0.4 L109,1.3 Z"/>
<path d="M119.4,-5.5 L119.6,-4.3 L119.6,-3.5 L118.9,-3 L118.9,-2.5 L119.3,-1.9 L119.5,-0.9 L119.8,0 L120,0.6 L120.6,1.2 L121.5,1 L122.4,1 L123.2,0.9 L124,1 L124.6,1.4 L125.2,1.6 L125,1.1 L124.4,0.5 L123.7,0.3 L122.8,0.4 L121.8,0.4 L121,0.4 L120.2,0 L120.1,-0.7 L120.8,-1.4 L121.5,-1 L122.5,-0.8 L123.3,-0.9 L122.8,-1.3 L122,-1.8 L121.4,-2 L121.9,-2.8 L122.2,-3.4 L122.5,-4.2 L123.1,-4.5 L122.7,-5 L122.2,-5.3 L121.6,-4.8 L121.5,-4.3 L121,-3.8 L120.9,-3 L120.4,-2.9 L120.4,-3.8 L120.4,-5 L120.3,-5.6 L119.8,-5.6 Z"/>
<path d="M127.6,1.8 L128,2.2 L128.2,1.2 L128.7,1 L128,0.5 L128.3,-0.4 L127.8,-0.8 L127.6,0.3 Z M127.9,-3.2 L129,-2.8 L130.5,-3.1 L130.8,-3.8 L129.5,-3.5 L128.2,-3.6 Z M126,-3.2 L127.1,-3.4 L126.8,-3.8 L126.1,-3.7 Z"/>
<path d="M131,-1.3 L131.8,-0.8 L132.6,-0.4 L133.5,-0.7 L134.2,-1 L134.2,-2.2 L135,-3.3 L135.5,-3.3 L136.3,-2.3 L137.2,-1.6 L138,-1.6 L139,-2.1 L140,-2.4 L141,-2.6 L142,-3 L143.5,-3.5 L144.5,-3.8 L145.3,-4.4 L145.8,-5.3 L146.5,-5.7 L147.6,-6.1 L147.8,-6.7 L147,-7 L147.6,-8 L148.3,-9 L149.2,-9.1 L149.3,-9.8 L150,-10.1 L150.8,-10.2 L150.2,-10.6 L149.5,-10.4 L148.5,-10.2 L147.5,-10.1 L146.5,-8.8 L146,-8 L144.7,-7.6 L143.8,-7.8 L143.3,-8.3 L143.2,-9 L142.4,-9.2 L141,-9.1 L140.2,-8.2 L139,-8.1 L138,-8.4 L138.3,-7.5 L138.8,-7 L138.1,-6 L137.9,-5.3 L136.9,-4.9 L135.2,-4.4 L134.2,-3.9 L133.5,-3.9 L132.9,-4.1 L132.3,-3.2 L132,-2.8 L132.9,-2.4 L133.6,-2.2 L132.6,-2.2 L131.9,-1.6 L131.1,-1.5 Z"/>
<path d="M148.3,-5.6 L149,-5.6 L150,-5.4 L150.8,-5.5 L151.6,-4.9 L152.2,-4.3 L152.3,-4.9 L151.6,-5.6 L150.8,-6.2 L150,-6.1 L149.3,-6 L148.4,-5.8 Z M150.8,-2.6 L151.8,-3.2 L152.5,-3.9 L153,-4.6 L152.7,-4.7 L152,-4 L151.2,-3.1 Z M146.6,-2 L147.4,-2 M154.6,-5.4 L155.4,-6 L155.9,-6.8 L155.4,-6.8 L154.8,-6.2 Z"/>
<path d="M156.5,-7 L157.5,-7.6 L157.3,-7.9 Z M158.3,-7.5 L159.5,-8.2 L159.9,-8.5 L159.6,-8.6 L158.6,-8 Z M159.6,-9.3 L160.6,-9.4 L160.8,-9.9 L159.8,-9.8 Z M160.7,-8.3 L161.2,-9 L161.5,-9.8 L161,-9.3 Z M161.3,-10.2 L162.2,-10.5 L162,-10.8 Z"/>
<path d="M166.6,-14.6 L167.2,-15.1 L167.1,-15.6 L166.7,-15.4 Z M167.8,-16 L168.3,-16.4 M168.2,-17.5 L168.5,-17.8 M169.2,-18.7 L169.4,-19"/>
<path d="M164,-20.1 L165,-20.7 L166.2,-21.6 L167,-22.3 L166.6,-22.4 L165.4,-21.7 L164.4,-20.8 Z"/>
<path d="M177.3,-17.6 L178,-17.3 L178.6,-17.7 L178.3,-18.2 L177.5,-18.1 Z M178.7,-16.6 L179.7,-16.3 L180,-16.2 L179.4,-16.8 Z"/>
<path d="M120.6,18.5 L121.2,18.6 L122.2,18.5 L122.3,17.5 L122.1,16.5 L121.6,15.8 L121.6,14.8 L122,14.1 L122.7,14.3 L123.3,13.8 L123.8,13.2 L124.1,12.6 L123.6,12.7 L122.6,13.4 L122,13.7 L121.5,13.6 L120.9,13.8 L120.6,14.5 L120.5,15.4 L119.9,16 L120.3,16.6 L120.4,17.5 Z"/>
<path d="M120.3,13.5 L121.2,13.4 L121.5,12.6 L121,12.2 L120.4,12.6 Z M124.2,12.5 L125.3,12.3 L125.7,11.2 L125,11 L124.4,11.7 Z M124.4,11.5 L125,10.9 L125.2,10.1 L124.8,10 L124.4,10.7 Z M121.9,11.9 L122.7,11.6 L123.1,11 L122.2,10.5 L121.9,11.1 Z M122.4,10.9 L123.1,10.8 L123.5,10 L123.2,9.2 L122.5,9.8 Z M123.3,11.2 L124.1,10.3 L123.4,9.5 Z M123.8,10 L124.5,9.9 L124.3,9.6 Z"/>
<path d="M121.9,7 L122.2,7.6 L123,7.9 L123.6,8.6 L124.2,8.2 L124.7,8.9 L125.5,9.8 L126,9.3 L126.4,8.2 L126.6,7.3 L126.2,6.3 L125.6,5.6 L125.3,6.1 L125.4,6.8 L124.6,6.1 L124,6.4 L124,7.4 L123.4,7.8 L122.8,7.4 L122.1,6.9 Z"/>
<path d="M117.2,8.4 L118.3,9.3 L119.1,10.3 L119.6,11.3 L119.3,10.6 L118.5,9.5 L117.5,8.6 Z M121,6 L121.3,6"/>
<path d="M113.4,-25.7 L113.5,-25 L113.8,-24.2 L113.6,-23.5 L113.8,-22.5 L114.2,-21.8 L114.6,-22 L115.5,-21.5 L116.7,-20.6 L117.8,-20.6 L118.8,-20.3 L119.5,-20 L120.5,-19.7 L121.3,-19.2 L121.8,-18.4 L122.3,-17.5 L122.9,-16.4 L123.6,-16.9 L123.6,-16 L124.3,-15.4 L125.1,-14.6 L125.9,-14.3 L126.8,-13.9 L127.7,-14.3 L128.2,-14.9 L129,-14.9 L129.6,-14.9 L129.9,-14 L130.3,-13.2 L130.3,-12.6 L131,-12.2 L131.9,-11.5 L132.6,-11.6 L132.8,-12.1 L133.4,-11.7 L134,-12 L134.9,-12.2 L135.8,-11.9 L136.5,-11.9 L136.9,-12.4 L136.3,-13.2 L135.9,-13.4 L136,-14 L135.4,-14.8 L136.4,-15.6 L137.2,-16 L138.3,-16.8 L139.2,-17.4 L140,-17.7 L140.8,-17.4 L141.3,-16.5 L141.5,-15.4 L141.6,-14.3 L141.6,-13.2 L141.7,-12.3 L142.1,-11.3 L142.5,-10.7 L142.8,-11.2 L143,-12 L143.5,-12.9 L143.5,-13.8 L144.3,-14.3 L145,-14.8 L145.3,-15.5 L145.4,-16.4 L145.9,-17 L146.2,-18.5 L146.7,-19.1 L147.5,-19.5 L148.3,-20.1 L148.8,-20.4 L149.3,-21 L149.7,-22.3 L150.3,-22.2 L150.7,-22.6 L150.8,-23.5 L151.5,-24 L152.3,-24.7 L152.9,-25.3 L153.1,-25.7"/>
<path d="M130,-11.3 L131.5,-11.2 L131,-11.8 L130.1,-11.8 Z M136.3,-13.7 L136.8,-13.8 L136.6,-14.2 Z"/>
</g>

<g fill="none" stroke-linejoin="round">
<path d="M260,1188.3 L300,1190 L340,1194 L400,1202 L440,1208 L490,1217 L540,1228 L600,1247 L640,1257 L663,1263 L700,1271 L758,1282 L763,1283" stroke="#d01515" stroke-width="1.3"/>
<path d="M1418.6,1244.7 L1450,1238 L1500,1228 L1555,1215 L1600,1205 L1628,1199 L1680,1193 L1731,1188.6 L1766,1187 L1790,1187 L1810,1188.6" stroke="#d01515" stroke-width="1.3"/>
<path d="M260,1234 L300,1240 L340,1247 L390,1252 L440,1258 L490,1266 L540,1275 L600,1286 L640,1293 L679,1297 L720,1289 L762,1280 L790,1267 L821,1250 L850,1233 L885,1214 L920,1205 L948,1199 L980,1197 L1015,1197 L1074,1198 L1120,1203 L1160,1207 L1207,1211.7 L1280,1213 L1347,1210 L1413,1209.3 L1500,1209.5 L1555,1208.6 L1625,1210.7 L1660,1213 L1700,1218 L1731,1222.6 L1770,1229 L1810,1235" stroke="#1ef01e" stroke-width="6.5" stroke-linecap="round"/>
<path d="M763,1283 L800,1290 L850,1296 L934,1301" stroke="#ff0000" stroke-width="13" stroke-dasharray="11 3"/>
</g>
<g fill="none" stroke="#e020e0" stroke-width="1.2">
<path transform="translate(336.7,1235)" d="M0,-8 L1.88,-2.59 L7.61,-2.47 L3.04,0.99 L4.7,6.47 L0,3.2 L-4.7,6.47 L-3.04,0.99 L-7.61,-2.47 L-1.88,-2.59 Z"/>
<path transform="translate(683,1296)" d="M0,-8 L1.88,-2.59 L7.61,-2.47 L3.04,0.99 L4.7,6.47 L0,3.2 L-4.7,6.47 L-3.04,0.99 L-7.61,-2.47 L-1.88,-2.59 Z"/>
<path transform="translate(823.4,1255)" d="M0,-8 L1.88,-2.59 L7.61,-2.47 L3.04,0.99 L4.7,6.47 L0,3.2 L-4.7,6.47 L-3.04,0.99 L-7.61,-2.47 L-1.88,-2.59 Z"/>
<path transform="translate(1637.8,1185)" d="M0,-8 L1.88,-2.59 L7.61,-2.47 L3.04,0.99 L4.7,6.47 L0,3.2 L-4.7,6.47 L-3.04,0.99 L-7.61,-2.47 L-1.88,-2.59 Z"/>
<path transform="translate(1736,1202.7)" d="M0,-8 L1.88,-2.59 L7.61,-2.47 L3.04,0.99 L4.7,6.47 L0,3.2 L-4.7,6.47 L-3.04,0.99 L-7.61,-2.47 L-1.88,-2.59 Z"/>
</g>
</g>
<g stroke="#000" stroke-width="1.2" fill="none">
<rect x="260" y="1133" width="1550" height="222"/>
<path d="M260,1179h15M260,1244h15M260,1309h15M1810,1179h-15M1810,1244h-15M1810,1309h-15"/>
<path d="M440,1133v15M619,1133v15M800,1133v15M812,1133v15M1447,1133v15M1628,1133v15M440,1355v-15M619,1355v-15M800,1355v-15M812,1355v-15M1447,1355v-15M1628,1355v-15"/>
</g>
<g font-size="27" fill="#000">
<text x="250" y="1191" text-anchor="end">15<tspan font-size="18" dy="-10">o</tspan><tspan dy="10">N</tspan></text>
<text x="244" y="1256" text-anchor="end">0<tspan font-size="18" dy="-10">o</tspan></text>
<text x="250" y="1321" text-anchor="end">15<tspan font-size="18" dy="-10">o</tspan><tspan dy="10">S</tspan></text>
</g>

<!-- ===== TABLE ===== -->
<g font-size="27" fill="#000">
<text x="217" y="1403">GLON</text>
<text x="219.5" y="1443">GLAT</text>
<text x="224" y="1484">GALT</text>
<text x="217" y="1525">MLON</text>
<text x="221" y="1565">MLAT</text>
<text x="238.6" y="1606">UT</text>
<text x="227" y="1647">SLT</text>
</g>
<g font-size="27" fill="#000" text-anchor="middle">
<text x="440" y="1403">226.5</text><text x="619" y="1403">268.2</text><text x="797" y="1403">312.0</text><text x="811" y="1403">310.8</text><text x="1447" y="1403">100.5</text><text x="1628" y="1403">142.6</text><text x="1809" y="1403">184.6</text>
<text x="440" y="1443">+08.1</text><text x="618" y="1443">-01.6</text><text x="797" y="1443">-10.4</text><text x="811" y="1443">-10.8</text><text x="1447" y="1443">+01.6</text><text x="1628" y="1443">+10.4</text><text x="1809" y="1443">+13.0</text>
<text x="444" y="1484">814</text><text x="622" y="1484">836</text><text x="802" y="1484">724</text><text x="814" y="1484">713</text><text x="1449" y="1484">411</text><text x="1632" y="1484">515</text><text x="1813" y="1484">679</text>
<text x="440" y="1525">295.5</text><text x="619" y="1525">338.1</text><text x="797" y="1525">022.3</text><text x="811" y="1525">020.9</text><text x="1447" y="1525">171.3</text><text x="1628" y="1525">212.7</text><text x="1809" y="1525">253.2</text>
<text x="440" y="1565">+11.9</text><text x="619" y="1565">+08.2</text><text x="797" y="1565">+00.3</text><text x="811" y="1565">+02.0</text><text x="1446" y="1565">-08.2</text><text x="1628" y="1565">+02.5</text><text x="1809" y="1565">+11.3</text>
<text x="440" y="1606">23:57</text><text x="619" y="1606">00:10</text><text x="797" y="1606">00:22</text><text x="811" y="1606">00:24</text><text x="1447" y="1606">23:21</text><text x="1628" y="1606">23:33</text><text x="1809" y="1606">23:45</text>
<text x="440" y="1647">15:00</text><text x="619" y="1647">18:00</text><text x="797" y="1647">21:00</text><text x="811" y="1647">21:00</text><text x="1447" y="1647">03:00</text><text x="1628" y="1647">06:00</text><text x="1809" y="1647">09:00</text>
</g>

<!-- side note -->
<g font-size="20" fill="#000">
<text transform="translate(1899,1668) rotate(-90)" textLength="395" lengthAdjust="spacingAndGlyphs">Preliminary corrected calibration, 2/11/09</text>
<text transform="translate(1921,1668) rotate(-90)" textLength="308" lengthAdjust="spacingAndGlyphs">Produced 03-Mar-2009 11:22:21</text>
</g>
</svg>
</body></html>
